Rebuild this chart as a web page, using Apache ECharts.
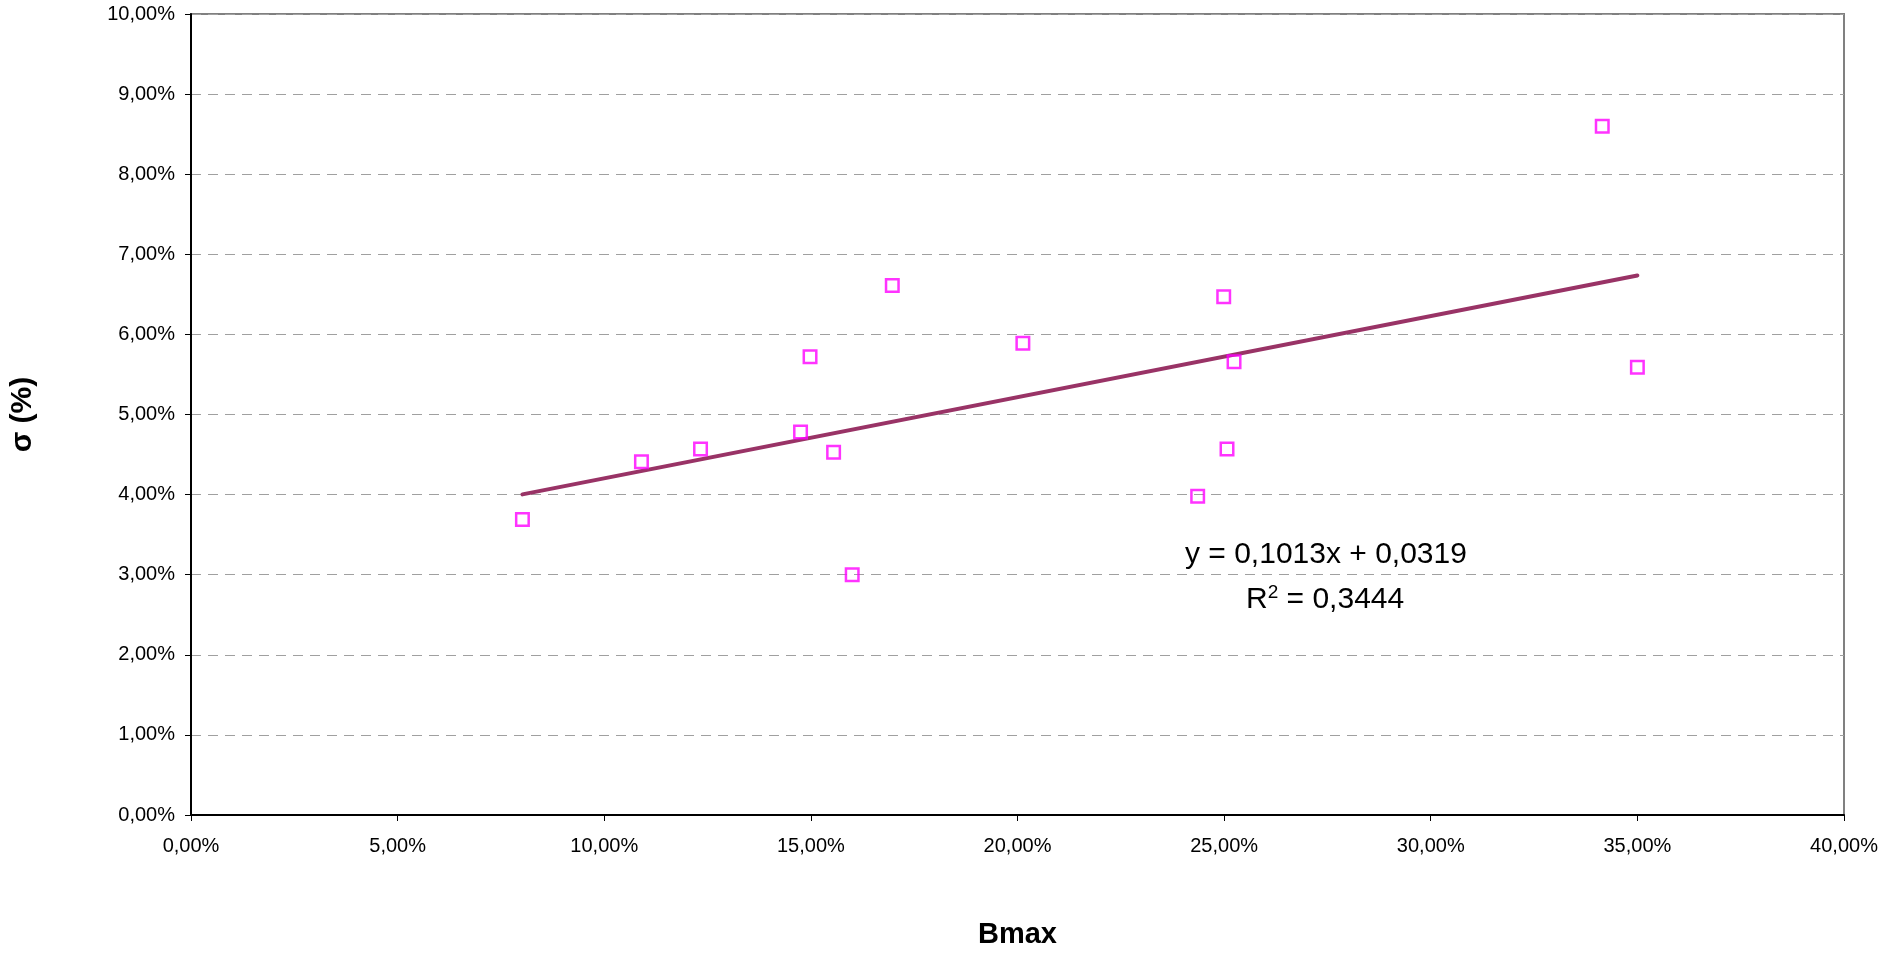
<!DOCTYPE html>
<html>
<head>
<meta charset="utf-8">
<script src="https://cdn.jsdelivr.net/npm/echarts@6/dist/echarts.min.js"></script>
<style>
html,body{margin:0;padding:0;background:#fff;}
#chart{width:1887px;height:954px;}
</style>
</head>
<body>
<div id="chart"></div>
<script>
// Data (fractions)
const bmax  = [0.0802, 0.1090, 0.1233, 0.1475, 0.1498, 0.1555, 0.1600, 0.1697, 0.2013, 0.2436, 0.2499, 0.2507, 0.2524, 0.3415, 0.3500];
const sigma = [0.0369, 0.0441, 0.0457, 0.0478, 0.0572, 0.0453, 0.0300, 0.0661, 0.0589, 0.0398, 0.0647, 0.0457, 0.0566, 0.0860, 0.0559];
const trendSlope = 0.1013;
const trendIntercept = 0.0319;
const equationText = 'y = 0,1013x + 0,0319';
const r2Text = '0,3444';
const xTitle = 'Bmax';
const yTitle = 'σ (%)';

const fmt = v => (v * 100).toFixed(2).replace('.', ',') + '%';
const FONT = '"Liberation Sans", Arial, sans-serif';

const points = bmax.map((x, i) => [x, sigma[i]]);
const xMin = Math.min(...bmax), xMax = Math.max(...bmax);
const trend = [[xMin, trendSlope * xMin + trendIntercept], [xMax, trendSlope * xMax + trendIntercept]];

const chart = echarts.init(document.getElementById('chart'), null, {renderer: 'canvas'});
chart.setOption({
  animation: false,
  backgroundColor: '#fff',
  grid: {left: 188, right: 43, top: 14, bottom: 136, show: true, borderColor: '#808080', borderWidth: 2, backgroundColor: 'transparent'},
  xAxis: {
    type: 'value', min: 0, max: 0.4, interval: 0.05,
    name: xTitle, nameLocation: 'middle', nameGap: 105,
    nameTextStyle: {fontFamily: FONT, fontSize: 29, fontWeight: 'bold', color: '#000'},
    axisLine: {show: true, onZero: false, lineStyle: {color: '#000', width: 2}},
    axisTick: {show: true, length: 6, lineStyle: {color: '#000', width: 1}},
    axisLabel: {formatter: fmt, fontFamily: FONT, fontSize: 20, color: '#000', margin: 21},
    splitLine: {show: false}
  },
  yAxis: {
    type: 'value', min: 0, max: 0.1, interval: 0.01,
    name: yTitle, nameLocation: 'middle', nameGap: 153, nameRotate: 90,
    nameTextStyle: {fontFamily: FONT, fontSize: 30, fontWeight: 'bold', color: '#000'},
    axisLine: {show: true, onZero: false, lineStyle: {color: '#000', width: 2}},
    axisTick: {show: true, length: 6, lineStyle: {color: '#000', width: 1}},
    axisLabel: {formatter: fmt, fontFamily: FONT, fontSize: 20, color: '#000', margin: 16},
    splitLine: {show: true, lineStyle: {color: '#a0a0a0', type: [10, 7], width: 1}}
  },
  series: [
    {
      type: 'line', data: trend, symbol: 'none', silent: true, z: 2,
      lineStyle: {color: '#993366', width: 4, cap: 'round'}
    },
    {
      type: 'scatter', data: points, symbol: 'rect', symbolSize: 12.5, z: 3,
      itemStyle: {color: 'rgba(255,255,255,0)', borderColor: '#FF00FF', borderWidth: 2.5}
    }
  ],
  graphic: [
    {type: 'text', left: 1185, top: 540,
     style: {text: equationText, font: '30px ' + FONT, fill: '#000'}},
    {type: 'text', left: 1246, top: 583,
     style: {text: 'R{sup|2} = ' + r2Text, font: '30px ' + FONT, fill: '#000',
       rich: {sup: {fontSize: 19, fontFamily: FONT, verticalAlign: 'top', padding: [0, 0, 14, 0], fill: '#000'}}}}
  ]
});
</script>
</body>
</html>
